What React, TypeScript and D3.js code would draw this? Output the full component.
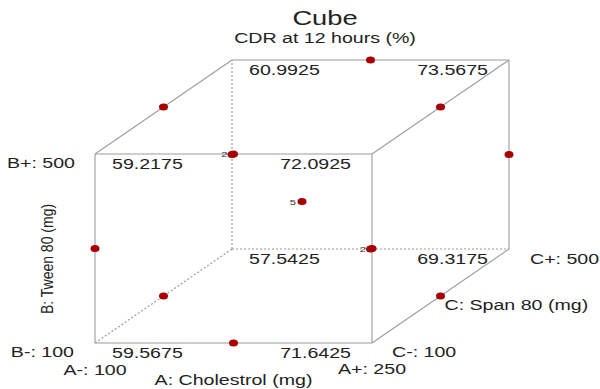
import React from "react";
import * as d3 from "d3";

// ---- data ----
const titleText = "Cube";
const subtitleText = "CDR at 12 hours (%)";

// cube corner responses (coded levels)
const cornerA = [-1, 1, -1, 1, -1, 1, -1, 1];
const cornerB = [-1, -1, 1, 1, -1, -1, 1, 1];
const cornerC = [-1, -1, -1, -1, 1, 1, 1, 1];
const cornerValues = [59.5675, 71.6425, 59.2175, 72.0925, 57.5425, 69.3175, 60.9925, 73.5675];

// design points (Box-Behnken): coded coordinates and replicate labels
const pointA = [-1, 1, -1, 1, -1, 1, -1, 1, 0, 0, 0, 0, 0];
const pointB = [-1, -1, 1, 1, 0, 0, 0, 0, -1, 1, -1, 1, 0];
const pointC = [0, 0, 0, 0, -1, -1, 1, 1, -1, -1, 1, 1, 0];
const pointLabels = ["", "", "", "", "", "2", "", "", "", "2", "", "", "5"];

const factorA = { name: "A: Cholestrol (mg)", low: "A-: 100", high: "A+: 250" };
const factorB = { name: "B: Tween 80 (mg)", low: "B-: 100", high: "B+: 500" };
const factorC = { name: "C: Span 80 (mg)", low: "C-: 100", high: "C+: 500" };

// ---- layout ----
const W = 600;
const H = 389;
const SX = 1.4; // horizontal stretch of the reference text
const xA = d3.scaleLinear().domain([-1, 1]).range([95, 372]);
const yB = d3.scaleLinear().domain([-1, 1]).range([343, 154]);
const dX = d3.scaleLinear().domain([-1, 1]).range([0, 137]);
const dY = d3.scaleLinear().domain([-1, 1]).range([0, -94]);
const px = (a: number, c: number) => xA(a) + dX(c);
const py = (b: number, c: number) => yB(b) + dY(c);

const LINE = "#9c9c9c";
const TEXT = "#222";
const DOT = "#a80000";
const FONT = "'Liberation Sans', Arial, sans-serif";

function T({ x, y, size = 14, anchor = "start", rotate = false, sx = SX, children, fill = TEXT }: any) {
  return (
    <text
      transform={`translate(${x},${y}) scale(${sx},1)${rotate ? " rotate(-90)" : ""}`}
      textAnchor={anchor}
      fontSize={size}
      fontFamily={FONT}
      fill={fill}
    >
      {children}
    </text>
  );
}

export default function App() {
  // edges: [a1,b1,c1,a2,b2,c2,dashed]
  const edges: [number, number, number, number, number, number, boolean][] = [
    [-1, -1, -1, 1, -1, -1, false],
    [-1, 1, -1, 1, 1, -1, false],
    [-1, -1, -1, -1, 1, -1, false],
    [1, -1, -1, 1, 1, -1, false],
    [-1, 1, 1, 1, 1, 1, false],
    [1, -1, 1, 1, 1, 1, false],
    [-1, -1, 1, -1, 1, 1, true],
    [-1, -1, 1, 1, -1, 1, true],
    [-1, 1, -1, -1, 1, 1, false],
    [1, 1, -1, 1, 1, 1, false],
    [1, -1, -1, 1, -1, 1, false],
    [-1, -1, -1, -1, -1, 1, true],
  ];

  return (
    <svg
      width={W}
      height={H}
      style={{ position: "fixed", left: 0, top: 0, background: "#fff" }}
    >
      <rect width={W} height={H} fill="#fff" />
      <T x={325} y={25} size={19.5} anchor="middle">{titleText}</T>
      <T x={325} y={43} size={14} anchor="middle">{subtitleText}</T>

      {edges.map((e, i) => (
        <line
          key={i}
          x1={px(e[0], e[2])}
          y1={py(e[1], e[2])}
          x2={px(e[3], e[5])}
          y2={py(e[4], e[5])}
          stroke={LINE}
          strokeWidth={e[6] ? 1.2 : 1.1}
          strokeDasharray={e[6] ? "2,2" : undefined}
        />
      ))}

      {cornerValues.map((v, i) => {
        const a = cornerA[i];
        const x = px(a, cornerC[i]);
        const y = py(cornerB[i], cornerC[i]);
        return a < 0 ? (
          <T key={i} x={x + 17} y={y + 15}>{v.toFixed(4)}</T>
        ) : (
          <T key={i} x={x - 21} y={y + 15} anchor="end">{v.toFixed(4)}</T>
        );
      })}

      {pointA.map((a, i) => {
        const x = px(a, pointC[i]);
        const y = py(pointB[i], pointC[i]);
        return (
          <g key={i}>
            <ellipse cx={x} cy={y} rx={4.5} ry={3.6} fill={DOT} />
            {pointLabels[i] && (
              <T x={x - 6} y={y + 3} size={8} anchor="end" fill="#333">{pointLabels[i]}</T>
            )}
          </g>
        );
      })}

      {/* factor level labels */}
      <T x={xA(-1) - 20} y={yB(1) + 14} anchor="end">{factorB.high}</T>
      <T x={xA(-1) - 21} y={yB(-1) + 14} anchor="end">{factorB.low}</T>
      <T x={xA(-1)} y={375} anchor="middle">{factorA.low}</T>
      <T x={xA(1)} y={374} anchor="middle">{factorA.high}</T>
      <T x={xA(0)} y={385} anchor="middle">{factorA.name}</T>
      <T x={xA(1) + 20} y={yB(-1) + 14}>{factorC.low}</T>
      <T x={px(1, 1) + 21} y={py(-1, 1) + 15}>{factorC.high}</T>
      <T x={px(1, 0) + 4} y={py(-1, 0) + 14}>{factorC.name}</T>
      <T x={53} y={259} anchor="middle" rotate sx={1.2}>{factorB.name}</T>
    </svg>
  );
}
